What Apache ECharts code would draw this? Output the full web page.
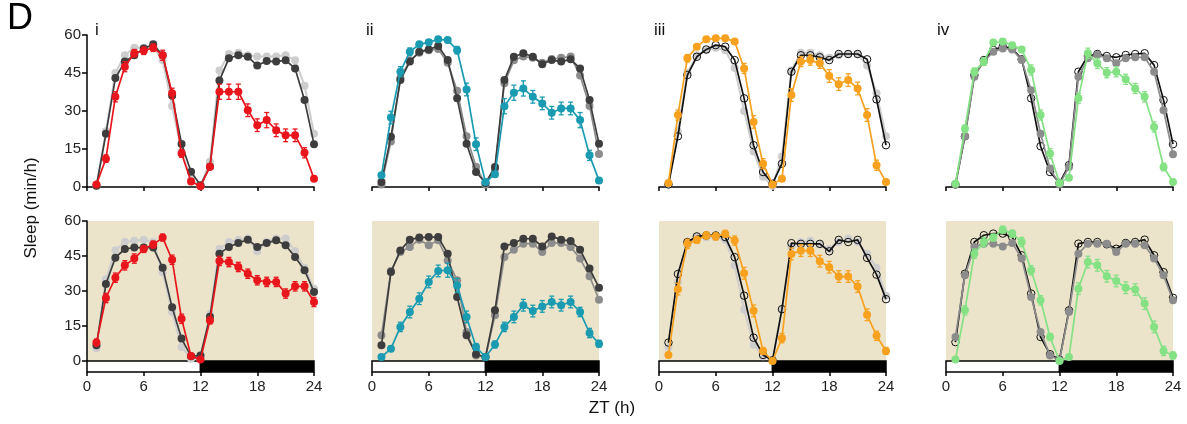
<!DOCTYPE html>
<html>
<head>
<meta charset="utf-8">
<script src="https://cdn.jsdelivr.net/npm/echarts@6/dist/echarts.min.js"></script>
<style>
html,body{margin:0;padding:0;background:#fff;}
#chart{width:1187px;height:424px;}
</style>
</head>
<body>
<div id="chart"></div>
<script>
// ---------- data ----------
const hours = [1,2,3,4,5,6,7,8,9,10,11,12,13,14,15,16,17,18,19,20,21,22,23,24];
const xTicks = [0,6,12,18,24];
const yTicks = [0,15,30,45,60];
const panelLabels = ['i','ii','iii','iv'];
const ldBlocks = [[0,12,'light'],[12,24,'dark']];

// Panel i (red)
const iTopLight = [0.5,22,45,52,55,55,55.5,50,32,14,3,0.5,10,46,52.5,53,52,51.5,51.5,51.5,52,50,40,21];
const iTopDark  = [0.5,21,43,49.5,52,54.7,56.3,52,36,17,6,0.7,8,42,50.8,52,51.4,48,49.7,49.5,50,46.8,34.3,16.9];
const iTopRed   = [1,11.2,35.6,47.5,52.8,53.8,55,52,37,13.2,2.2,0.3,8,37.6,37.6,37.6,30.3,24.4,26.4,22.4,20.4,20.4,13.5,3.3];
const iTopRedErr= [0.5,1.5,2,2,1.5,1.5,1.5,2,2,1.5,1,0.5,1,3,3,3,2.5,2.5,3,2.5,2.5,2.5,2,1];
const iBotLight = [5.5,35,47.5,51,51.5,52,51,38,21,6,1,1,20,48,51,52,52.5,47,51,52.5,52.5,47,40,31];
const iBotDark  = [6.7,33,44.3,48,48.6,48.6,48.6,40,23,9.6,2,2.4,19,46,48.9,50.6,52,48.9,50.6,51.7,49.6,44.6,38.9,29.6];
const iBotRed   = [7.9,27,35.7,41,43.9,48,49.9,52.9,43.4,18.1,2.1,0.6,17.4,42.9,42.4,40.3,37.4,34.6,33.9,33.9,28.9,32,32,25.3];
const iBotRedErr= [1.5,2,2,2,2,1.5,1.5,1.5,2,2,1,0.5,1.5,2,2,2,2,2,2,2,2,2,2,2];

// Panel ii (teal)
const iiTopMid  = [1,18,43,50,53,54,54.5,49,38,20,8,1,7,41,50,51.5,51,49,50.5,51,51.5,44,32,13];
const iiTopDark = [2,19.8,42.2,49.5,53.4,54.3,55.7,50.1,35,17.1,5.9,1.6,7.9,42.2,51.4,52.8,51.4,48.5,50.1,49.5,50.4,46.8,34.3,17.1];
const iiTopTeal = [4.6,27.4,45.5,53.4,56.3,57.1,58.3,58,54,38.5,16.9,2,5,31.9,37.2,38.9,35.6,33,29.3,31,31,26.4,12.5,2.6];
const iiTopTealErr=[1,2.5,2,1.5,1,1,1,1,1.5,2.5,2.5,0.5,1,3,3,3,2.5,2.5,2.5,2.5,2.5,3,2,1];
const iiBotMid  = [11,38.6,46.7,48.9,52,49.6,51.7,43.1,34.6,12.4,2.4,1.7,19.6,44.6,47.7,50.3,50.3,46.7,50.6,50.6,48.9,43.9,36.3,26.3];
const iiBotDark = [6.7,38.1,47.4,52,52.9,53.1,53.1,46,27.4,11,2.9,1.7,21.7,49.1,50.6,52.4,52.4,49.1,53.4,52,51.4,47.7,39.6,31.4];
const iiBotTeal = [1.7,5.3,14.6,21,26.7,33.9,38.6,38.9,32.4,18.9,6,1.7,7.1,14.6,18.9,23.9,21.4,23.4,25.3,23.9,25.3,21,12,7.4];
const iiBotTealErr=[0.5,1,2,2.5,2.5,2.5,2.5,3,3,2.5,1.5,0.5,1.5,2,2.5,2.5,2.5,2.5,2.5,2.5,2.5,2,2,1.5];

// Panel iii (orange)
const iiiTopLight = [1,22,45,52,54,55,54,47,30,14,4,0.5,12,46,53,53,52,51,52,52.5,52.5,48,37,20];
const iiiTopBlack = [1,20,44.2,51.4,54.3,56,55.4,50.1,35,16.5,5.9,1.3,9.2,45.5,52,52,51.2,50.1,52.5,52.5,52.5,50.4,34.6,16.5];
const iiiTopOrange= [1.6,28.4,50.8,55.4,58.3,58.7,58.7,57.4,46.8,25.7,9.2,1,3.3,36.3,49.5,50.1,48.8,43.8,40.6,42.2,38.9,28.4,8.6,2];
const iiiTopOrangeErr=[0.5,2,1.5,1,1,1,1,1,2,2.5,2,0.5,1,2.5,2,2,2,2.5,2.5,2.5,2.5,2.5,2,1];
const iiiBotLight = [6,34,50,53,53,53,52,41,22,7,2,0.5,22,49,51,51.5,50,48,51,52.5,51,46,40,28];
const iiiBotBlack = [7.9,37.3,51,53.4,53.8,53.8,53.1,44.5,28,10,2.6,0.3,22.2,50.5,50.2,50.2,50.2,47,51.9,51,51.9,44.2,37,26.5];
const iiiBotOrange= [2.6,30.8,50.2,51.9,53.8,53.4,54.5,51.6,37.6,21.5,4.3,0,9.8,45.9,47.3,47.3,42.8,40.2,36.2,36.2,31.9,19.8,10.8,4.3];
const iiiBotOrangeErr=[1,2.5,2,1.5,1.5,1.5,1.5,2,2.5,2.5,1.5,0.5,2,2.5,2.5,2.5,2.5,2.5,2.5,2.5,2.5,2.5,2,1.5];

// Panel iv (green)
const ivTopMid   = [1,20,43.5,49.5,53.4,54.7,54.3,50.1,38.2,21,7.3,1,7.9,43.5,50.8,52.1,50.8,48.8,50.8,51.2,51.2,45.5,30.3,12.9];
const ivTopBlack = [1,20,44.2,50.1,54.1,55.4,54.7,50.4,35,16.1,5.9,1.6,8.6,45.5,51.7,52.5,51.7,51.2,52.1,52.5,52.8,48.1,34.3,16.9];
const ivTopGreen = [1.3,23,45.5,49.5,57,57.4,56,54.3,46.2,28.4,13.2,1.6,3.7,35,52.8,48.8,45.1,45.5,42.5,38.9,35.6,23.7,7.9,2];
const ivTopGreenErr=[0.5,1.5,1.5,1.5,1,1,1,1,2,2,2,0.5,1,2,2,2,2,2,2,2,2,2,1.5,1];
const ivBotMid   = [10.3,36.7,48.9,50.3,50.3,49.1,50.6,43.9,27.4,12.4,2.4,0.3,21,46,50.3,50.3,50.3,46.7,50.3,50.3,49.6,43.9,36.7,26];
const ivBotBlack = [8.1,37.4,51,53.9,54.6,54.6,53.1,45.3,28.9,10.3,2.9,0.6,21.7,50.3,51,51,50,48.1,50.6,51,52,45.3,38.1,27.1];
const ivBotGreen = [0.6,21.7,46,51,52.9,56.3,54.6,51,38.9,26,10.3,0,1.7,31,42.4,41,36.3,34.3,31.4,30.6,24.6,14.6,4.3,2.4];
const ivBotGreenErr=[0.5,2,2,2,1.5,1.5,1.5,2,2,2,1.5,0.5,1,2.5,2.5,2.5,2.5,2.5,2.5,2.5,2.5,2.5,2,1.5];

// ---------- styles ----------
const C = {
  light:'#cdcdcd', mid:'#8c8c8c', dark:'#3d3d3d', black:'#111111',
  red:'#e8161c', teal:'#1a9bb1', orange:'#f7a11e', green:'#84e184',
  beige:'#ece4ca'
};
const FONT = 'Liberation Sans, Arial, sans-serif';

const lefts = [87, 372, 659, 946];
const W = 227;

const panels = [
  { top:[[iTopLight,'light','fill'],[iTopDark,'dark','fill'],[iTopRed,'red','fill',iTopRedErr]],
    bot:[[iBotLight,'light','fill'],[iBotDark,'dark','fill'],[iBotRed,'red','fill',iBotRedErr]] },
  { top:[[iiTopMid,'mid','fill'],[iiTopDark,'dark','fill'],[iiTopTeal,'teal','fill',iiTopTealErr]],
    bot:[[iiBotMid,'mid','fill'],[iiBotDark,'dark','fill'],[iiBotTeal,'teal','fill',iiBotTealErr]] },
  { top:[[iiiTopLight,'light','fill'],[iiiTopBlack,'black','open'],[iiiTopOrange,'orange','fill',iiiTopOrangeErr]],
    bot:[[iiiBotLight,'light','fill'],[iiiBotBlack,'black','open'],[iiiBotOrange,'orange','fill',iiiBotOrangeErr]] },
  { top:[[ivTopBlack,'black','open'],[ivTopMid,'mid','fill'],[ivTopGreen,'green','fill',ivTopGreenErr]],
    bot:[[ivBotBlack,'black','open'],[ivBotMid,'mid','fill'],[ivBotGreen,'green','fill',ivBotGreenErr]] }
];

const grid = [], xAxis = [], yAxis = [], series = [], graphic = [];

function addGrid(g, xStyle) {
  const idx = grid.length;
  grid.push(g);
  xAxis.push(Object.assign({ gridIndex: idx, type:'value', min:0, max:24, interval:6 }, xStyle));
  return idx;
}

const axisLineStyle = { color:'#000', width:1.5 };
const yAxisStyle = (gi, show) => ({ gridIndex:gi, type:'value', min:0, max:60, interval:15,
    show: show,
    axisLine:{ show:true, lineStyle:axisLineStyle },
    axisTick:{ show:true, length:5, lineStyle:axisLineStyle },
    axisLabel:{ show:true, color:'#222', fontSize:15, fontFamily:FONT, margin:6,
      formatter: v => yTicks.includes(v) ? String(v) : '' },
    splitLine:{ show:false } });

panels.forEach((p, pi) => {
  const left = lefts[pi];
  // top grid
  const gt = addGrid({ left:left, top:35, width:W, height:152 }, {
    axisLine:{ show:true, lineStyle:axisLineStyle, onZero:false },
    axisTick:{ show:true, length:4, lineStyle:axisLineStyle },
    axisLabel:{ show:false }, splitLine:{ show:false }
  });
  yAxis.push(yAxisStyle(gt, pi===0));

  // bottom grid
  const gb = addGrid({ left:left, top:221, width:W, height:140, show:true, backgroundColor:C.beige, borderWidth:0 }, {
    show:false
  });
  yAxis.push(yAxisStyle(gb, pi===0));

  // LD bar grid
  const gl = addGrid({ left:left, top:361, width:W, height:11 }, {
    axisLine:{ show:false },
    axisTick:{ show:true, length:4, lineStyle:axisLineStyle },
    axisLabel:{ show:true, color:'#222', fontSize:15, fontFamily:FONT, margin:7,
      formatter: v => xTicks.includes(v) ? String(v) : '' },
    splitLine:{ show:false }
  });
  yAxis.push({ gridIndex:gl, type:'value', min:0, max:1, show:false });

  series.push({
    type:'custom', xAxisIndex:gl, yAxisIndex:gl, silent:true,
    data: ldBlocks.map(b => [b[0], b[1], b[2]==='dark' ? 1 : 0]),
    renderItem: (params, api) => {
      const a = api.coord([api.value(0), 1]);
      const b = api.coord([api.value(1), 0]);
      const dark = api.value(2) === 1;
      return { type:'rect', shape:{ x:a[0], y:a[1], width:b[0]-a[0], height:b[1]-a[1] },
        style:{ fill: dark ? '#000' : '#fff', stroke:'#000', lineWidth:1.5 } };
    }
  });

  [[p.top, gt], [p.bot, gb]].forEach(([list, gi]) => {
    list.forEach((s, si) => {
      const [vals, colKey, kind, err] = s;
      const col = C[colKey];
      const data = hours.map((h, k) => [h, vals[k]]);
      series.push({
        type:'line', xAxisIndex:gi, yAxisIndex:gi, data:data, z: 2+si,
        symbol:'circle', symbolSize: kind==='open' ? 7.5 : 8,
        showSymbol:true, animation:false, silent:true,
        lineStyle:{ color:col, width: colKey==='light' ? 2 : 1.7 },
        itemStyle: kind==='open'
          ? { color:'rgba(0,0,0,0)', borderColor:col, borderWidth:1 }
          : { color:col, borderWidth:0 }
      });
      if (err) {
        series.push({
          type:'custom', xAxisIndex:gi, yAxisIndex:gi, z: 2+si, silent:true,
          data: hours.map((h, k) => [h, vals[k], err[k]]),
          renderItem: (params, api) => {
            const x = api.value(0), y = api.value(1), e = api.value(2);
            const t = api.coord([x, y+e]), b = api.coord([x, y-e]);
            const w = 2.5;
            const st = { stroke:col, lineWidth:1.3 };
            return { type:'group', children:[
              { type:'line', shape:{ x1:t[0], y1:t[1], x2:b[0], y2:b[1] }, style:st },
              { type:'line', shape:{ x1:t[0]-w, y1:t[1], x2:t[0]+w, y2:t[1] }, style:st },
              { type:'line', shape:{ x1:b[0]-w, y1:b[1], x2:b[0]+w, y2:b[1] }, style:st }
            ]};
          }
        });
      }
    });
  });
});

// texts
graphic.push({ type:'text', left:7, top:1, style:{ text:'D', fontSize:36, fontFamily:FONT, fill:'#000' } });
const labelX = [95, 366, 654, 937];
panelLabels.forEach((t, i) => {
  graphic.push({ type:'text', left:labelX[i], top:22, style:{ text:t, fontSize:17, fontFamily:FONT, fill:'#111' } });
});
graphic.push({ type:'text', x:31, y:208, rotation:Math.PI/2, style:{ text:'Sleep (min/h)', fontSize:17, fontFamily:FONT, fill:'#111', align:'center', verticalAlign:'middle' } });
graphic.push({ type:'text', x:612, y:408, style:{ text:'ZT (h)', fontSize:17, fontFamily:FONT, fill:'#111', align:'center', verticalAlign:'middle' } });

const chart = echarts.init(document.getElementById('chart'), null, { renderer:'canvas' });
chart.setOption({ animation:false, backgroundColor:'#fff', grid, xAxis, yAxis, series, graphic });
</script>
</body>
</html>
